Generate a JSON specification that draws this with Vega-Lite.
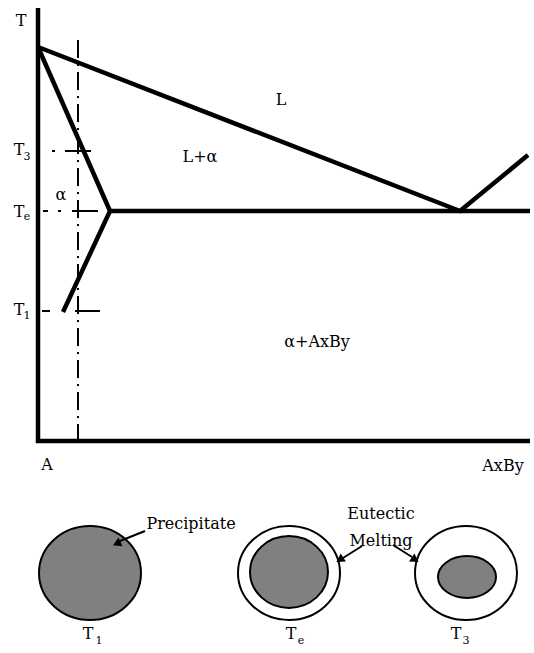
{
  "$schema": "https://vega.github.io/schema/vega-lite/v6.json",
  "width": 534,
  "height": 653,
  "autosize": "none",
  "padding": 0,
  "background": "white",
  "config": {"view": {"stroke": null}},
  "datasets": {
    "lines": [
      {"seg": "axis", "ord": 1, "x": 38, "y": 8},
      {"seg": "axis", "ord": 2, "x": 38, "y": 441},
      {"seg": "axis", "ord": 3, "x": 530, "y": 441},
      {"seg": "liquidus", "ord": 1, "x": 38, "y": 47},
      {"seg": "liquidus", "ord": 2, "x": 460, "y": 211},
      {"seg": "liquidus", "ord": 3, "x": 528, "y": 155},
      {"seg": "solidus", "ord": 1, "x": 38, "y": 47},
      {"seg": "solidus", "ord": 2, "x": 110, "y": 211},
      {"seg": "solidus", "ord": 3, "x": 63, "y": 312},
      {"seg": "eutectic", "ord": 1, "x": 110, "y": 211},
      {"seg": "eutectic", "ord": 2, "x": 530, "y": 211}
    ],
    "dashdot": [
      {"ord": 1, "x": 78, "y": 40},
      {"ord": 2, "x": 78, "y": 440}
    ],
    "ticks": [
      {"x": 52, "x2": 55, "y": 151},
      {"x": 65, "x2": 91, "y": 151},
      {"x": 43, "x2": 48, "y": 211},
      {"x": 58, "x2": 61, "y": 211},
      {"x": 72, "x2": 98, "y": 211},
      {"x": 42, "x2": 50, "y": 311},
      {"x": 75, "x2": 100, "y": 311}
    ],
    "arrows": [
      {"x": 145, "y": 531, "x2": 120, "y2": 541},
      {"x": 362, "y": 546, "x2": 343, "y2": 558},
      {"x": 393, "y": 545, "x2": 412, "y2": 557}
    ],
    "heads": [
      {"x": 118, "y": 543, "angle": 246},
      {"x": 341, "y": 559, "angle": 237},
      {"x": 414, "y": 559, "angle": 124}
    ],
    "fullGrain": [{"x": 90, "y": 573}],
    "outerRing": [{"x": 289, "y": 573}, {"x": 466, "y": 573}],
    "innerTe": [{"x": 289, "y": 572}],
    "innerT3": [{"x": 467, "y": 577}],
    "labels": [
      {"x": 21, "y": 21, "text": "T"},
      {"x": 19, "y": 150, "text": "T"},
      {"x": 61, "y": 195, "text": "α"},
      {"x": 19, "y": 212, "text": "T"},
      {"x": 19, "y": 310, "text": "T"},
      {"x": 281, "y": 100, "text": "L"},
      {"x": 200, "y": 157, "text": "L+α"},
      {"x": 317, "y": 342, "text": "α+AxBy"},
      {"x": 47, "y": 465, "text": "A"},
      {"x": 503, "y": 466, "text": "AxBy"},
      {"x": 191, "y": 524, "text": "Precipitate"},
      {"x": 381, "y": 514, "text": "Eutectic"},
      {"x": 381, "y": 541, "text": "Melting"},
      {"x": 88, "y": 634, "text": "T"},
      {"x": 291, "y": 634, "text": "T"},
      {"x": 456, "y": 634, "text": "T"}
    ],
    "subs": [
      {"x": 27, "y": 157, "text": "3"},
      {"x": 27, "y": 217, "text": "e"},
      {"x": 27, "y": 316, "text": "1"},
      {"x": 99, "y": 641, "text": "1"},
      {"x": 301, "y": 641, "text": "e"},
      {"x": 466, "y": 641, "text": "3"}
    ]
  },
  "encoding": {
    "x": {"field": "x", "type": "quantitative", "scale": {"domain": [0, 534], "nice": false, "zero": false}, "axis": null},
    "y": {"field": "y", "type": "quantitative", "scale": {"domain": [0, 653], "nice": false, "zero": false, "reverse": true}, "axis": null}
  },
  "layer": [
    {
      "data": {"name": "dashdot"},
      "mark": {"type": "line", "color": "black", "strokeWidth": 2, "strokeDash": [18, 6, 2, 6]},
      "encoding": {"order": {"field": "ord", "type": "quantitative"}}
    },
    {
      "data": {"name": "lines"},
      "mark": {"type": "line", "color": "black", "strokeWidth": 4.5, "strokeJoin": "miter"},
      "encoding": {
        "detail": {"field": "seg", "type": "nominal"},
        "order": {"field": "ord", "type": "quantitative"}
      }
    },
    {
      "data": {"name": "ticks"},
      "mark": {"type": "rule", "color": "black", "strokeWidth": 2},
      "encoding": {"x2": {"field": "x2"}}
    },
    {
      "data": {"name": "fullGrain"},
      "mark": {"type": "point", "shape": "M -1 0 A 1 0.92 0 1 1 1 0 A 1 0.92 0 1 1 -1 0 Z", "size": 10404, "fill": "#808080", "stroke": "black", "strokeWidth": 2, "opacity": 1}
    },
    {
      "data": {"name": "outerRing"},
      "mark": {"type": "point", "shape": "M -1 0 A 1 0.92 0 1 1 1 0 A 1 0.92 0 1 1 -1 0 Z", "size": 10404, "fill": "white", "stroke": "black", "strokeWidth": 2, "opacity": 1}
    },
    {
      "data": {"name": "innerTe"},
      "mark": {"type": "point", "shape": "M -1 0 A 1 0.92 0 1 1 1 0 A 1 0.92 0 1 1 -1 0 Z", "size": 6084, "fill": "#808080", "stroke": "black", "strokeWidth": 2, "opacity": 1}
    },
    {
      "data": {"name": "innerT3"},
      "mark": {"type": "point", "shape": "M -1 0 A 1 0.72 0 1 1 1 0 A 1 0.72 0 1 1 -1 0 Z", "size": 3364, "fill": "#808080", "stroke": "black", "strokeWidth": 2, "opacity": 1}
    },
    {
      "data": {"name": "arrows"},
      "mark": {"type": "rule", "color": "black", "strokeWidth": 2},
      "encoding": {"x2": {"field": "x2"}, "y2": {"field": "y2"}}
    },
    {
      "data": {"name": "heads"},
      "mark": {"type": "point", "shape": "triangle", "size": 90, "fill": "black", "stroke": null, "opacity": 1},
      "encoding": {"angle": {"field": "angle", "type": "quantitative", "scale": null}}
    },
    {
      "data": {"name": "labels"},
      "mark": {"type": "text", "font": "DejaVu Serif", "fontSize": 16, "color": "black", "align": "center", "baseline": "middle"},
      "encoding": {"text": {"field": "text"}}
    },
    {
      "data": {"name": "subs"},
      "mark": {"type": "text", "font": "DejaVu Serif", "fontSize": 11, "color": "black", "align": "center", "baseline": "middle"},
      "encoding": {"text": {"field": "text"}}
    }
  ]
}
